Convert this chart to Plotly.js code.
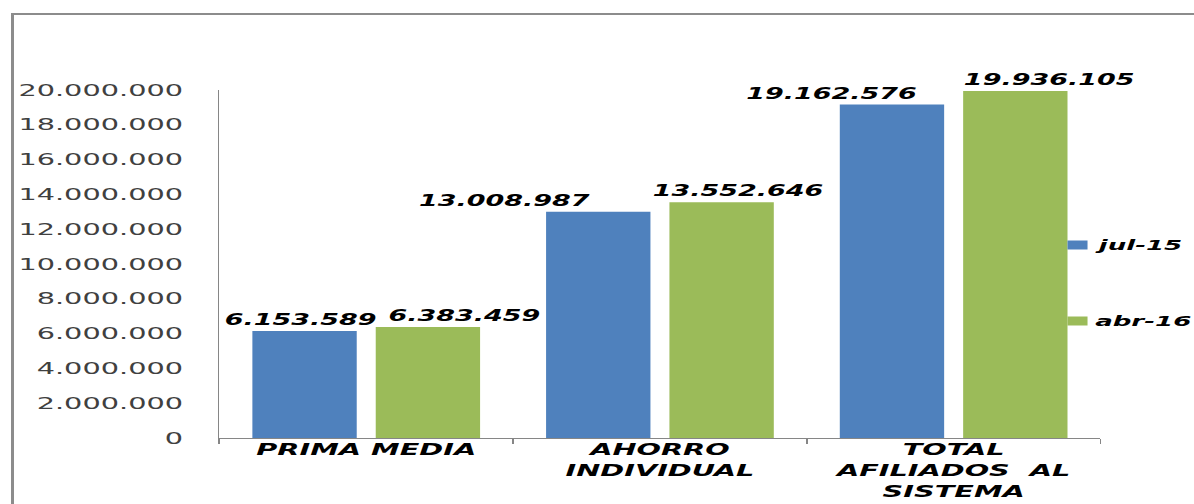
<!DOCTYPE html>
<html>
<head>
<meta charset="utf-8">
<script src="https://cdn.plot.ly/plotly-3.0.1.min.js"></script>
<style>
  html, body { margin: 0; padding: 0; background: #fff; }
  #wrap { position: relative; width: 1194px; height: 504px; overflow: hidden; }
  #plot { position: absolute; left: 0; top: 0; width: 664px; height: 504px; transform: scaleX(1.7982); transform-origin: 0 0; }
  #frame { position: absolute; left: 11px; top: 13px; right: -20px; bottom: -20px;
           border-left: 3px solid #8c8c8c; border-top: 2px solid #8c8c8c; pointer-events: none; }
</style>
</head>
<body>
<div id="wrap">
  <div id="plot"></div>
  <div id="frame"></div>
</div>
<script>
// ---- data ----
const categories = ['PRIMA MEDIA', 'AHORRO<br>INDIVIDUAL', 'TOTAL<br>AFILIADOS\u00a0 AL<br>SISTEMA'];
const seriesNames = ['jul-15', 'abr-16'];
const jul15 = [6153589, 13008987, 19162576];
const abr16 = [6383459, 13552646, 19936105];
const yTickValues = [0, 2000000, 4000000, 6000000, 8000000, 10000000, 12000000, 14000000, 16000000, 18000000, 20000000];

// ---- styling / layout constants ----
const colors = ['#4F81BD', '#9BBB59'];
const W = 664, H = 504, SCALE = 1194 / 664;
const M = { l: 122.3, r: 52.3, t: 90, b: 66 };
const PW = W - M.l - M.r, PH = H - M.t - M.b;
const BARGAP = 0.16;
const BARGROUPGAP = 0.154;
// pixel nudges of the value labels (as placed in the original chart)
const labelNudgeX = [[-2, -52, -34], [20, 9, 19]];
// legend placement (screen pixels of the final picture)
const legendSymbolX = [1067, 1087];
const legendTextX = 1091;
const legendRowY = [245, 321];
const legendSymbolH = 9;

const fontBI = (size) => ({ family: 'DejaVu Sans', size: size, color: '#000', weight: 'bold', style: 'italic' });
const px2x = sx => (sx / SCALE - M.l) / PW;
const px2y = sy => (H - M.b - sy) / PH;

function fmt(v) { return String(v).replace(/\B(?=(\d{3})+(?!\d))/g, '.'); }

const series = [jul15, abr16];
const traces = series.map((vals, s) => ({
  type: 'bar',
  name: seriesNames[s],
  x: categories,
  y: vals,
  marker: { color: colors[s] },
  showlegend: false,
  hoverinfo: 'none'
}));

const slot = (1 - BARGAP) / series.length;
const annotations = [];
series.forEach((vals, s) => {
  vals.forEach((v, i) => {
    annotations.push({
      x: i + (s - (series.length - 1) / 2) * slot,
      y: v,
      xref: 'x', yref: 'y',
      text: fmt(v),
      showarrow: false,
      xanchor: 'center', yanchor: 'bottom',
      xshift: labelNudgeX[s][i],
      yshift: 0,
      font: fontBI(15)
    });
  });
});

// legend (drawn as shapes + text so it fits like the original)
const shapes = [];
seriesNames.forEach((name, s) => {
  shapes.push({
    type: 'rect', xref: 'paper', yref: 'paper',
    x0: px2x(legendSymbolX[0]), x1: px2x(legendSymbolX[1]),
    y0: px2y(legendRowY[s] + legendSymbolH / 2), y1: px2y(legendRowY[s] - legendSymbolH / 2),
    fillcolor: colors[s], line: { width: 0 }
  });
  annotations.push({
    xref: 'paper', yref: 'paper',
    x: px2x(legendTextX), y: px2y(legendRowY[s]),
    xanchor: 'left', yanchor: 'middle',
    text: name, showarrow: false,
    font: fontBI(14.5)
  });
});

const layout = {
  width: W, height: H,
  margin: { l: M.l, r: M.r, t: M.t, b: M.b, autoexpand: false },
  paper_bgcolor: 'rgba(0,0,0,0)',
  plot_bgcolor: 'rgba(0,0,0,0)',
  separators: ',.',
  barmode: 'group',
  bargap: BARGAP,
  bargroupgap: BARGROUPGAP,
  showlegend: false,
  xaxis: {
    type: 'category',
    range: [-0.5, categories.length - 0.5],
    showline: true, linecolor: '#868686', linewidth: 1,
    showgrid: false, zeroline: false,
    ticks: 'outside', tickson: 'boundaries', ticklen: 5, tickcolor: '#868686',
    ticklabelstandoff: -3,
    tickfont: fontBI(16),
    fixedrange: true
  },
  yaxis: {
    range: [0, 20000000],
    showline: true, linecolor: '#868686', linewidth: 1,
    showgrid: false, zeroline: false,
    ticks: '',
    tickmode: 'array',
    tickvals: yTickValues,
    ticktext: yTickValues.map(fmt),
    ticklabelstandoff: 16,
    tickfont: { family: 'DejaVu Sans', size: 16, color: '#404040' },
    fixedrange: true
  },
  shapes: shapes,
  annotations: annotations
};

Plotly.newPlot('plot', traces, layout, { displayModeBar: false, staticPlot: true, responsive: false });
</script>
</body>
</html>
